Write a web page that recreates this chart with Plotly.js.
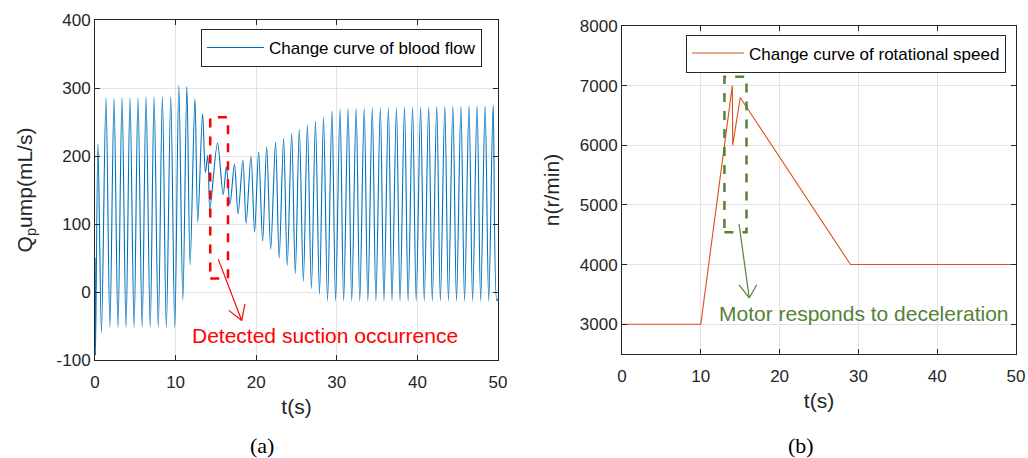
<!DOCTYPE html>
<html>
<head>
<meta charset="utf-8">
<script src="https://cdn.plot.ly/plotly-3.0.1.min.js"></script>
<style>html,body{margin:0;padding:0;background:#fff;}#chart{width:1028px;height:458px;}</style>
</head>
<body>
<div id="chart"></div>
<script>
// ---- Panel (a): pump blood flow ----
const flowStartT = [0, 0.06];
const flowStartQ = [50, -93];
const peakT = [0.37, 1.36, 2.36, 3.35, 4.34, 5.33, 6.33, 7.33, 8.36, 9.4,
  10.4, 11.4, 12.4, 13.35, 14.0, 15.2, 16.3,
  17.3, 18.35, 19.35, 20.3, 21.3, 22.4, 23.4, 24.4, 25.35, 26.35, 27.35, 28.35, 29.4,
  30.4, 31.4, 32.4, 33.4, 34.4, 35.4, 36.4, 37.4, 38.4, 39.4,
  40.4, 41.4, 42.4, 43.4, 44.4, 45.4, 46.4, 47.4, 48.4, 49.4];
const peakQ = [218, 286, 285, 286, 286, 286, 287, 287, 287, 287,
  304, 302, 284, 262, 201, 219, 184,
  188, 194, 200, 206, 213, 220, 226, 233, 239, 245, 251, 257, 266,
  269, 270, 270, 270, 271, 271, 271, 271, 272, 272,
  272, 272, 273, 273, 273, 273, 274, 274, 274, 275];
const troughT = [0.8, 1.85, 2.85, 3.85, 4.85, 5.85, 6.85, 7.85, 8.85, 9.9,
  10.9, 11.8, 12.75, 13.7, 14.25, 15.9, 16.75,
  17.75, 18.75, 19.8, 20.8, 21.8, 22.85, 23.85, 24.85, 25.85, 26.85, 27.85, 28.85,
  29.85, 30.85, 31.85, 32.85, 33.85, 34.85, 35.85, 36.85, 37.85, 38.85, 39.85,
  40.85, 41.85, 42.85, 43.85, 44.85, 45.85, 46.85, 47.85, 48.85, 49.85];
const troughQ = [-60, -52, -52, -52, -52, -52, -52, -52, -52, -52,
  -12, 40, 103, 176, 122, 143, 129,
  115, 101, 88, 75, 63, 50, 39, 27, 16, 5, -3, -13,
  -13, -13, -13, -13, -13, -13, -13, -13, -13, -13, -13,
  -13, -13, -13, -13, -13, -13, -13, -13, -13, -13];
const flowEndT = [50];
const flowEndQ = [-10];

// ---- Panel (b): rotational speed ----
const speedT = [0, 10, 14.0, 14.05, 15.0, 29.0, 50];
const speedN = [3000, 3000, 7000, 6000, 6800, 4000, 4000];

const xTicks = [0, 10, 20, 30, 40, 50];
const yTicksA = [-100, 0, 100, 200, 300, 400];
const yTickTextA = ['-100', '0', '100', '200', '300', '400'];
const yTicksB = [3000, 4000, 5000, 6000, 7000, 8000];

// interleave flow points in time order
let pts = [];
flowStartT.forEach((t, i) => pts.push([t, flowStartQ[i]]));
peakT.forEach((t, i) => pts.push([t, peakQ[i]]));
troughT.forEach((t, i) => pts.push([t, troughQ[i]]));
flowEndT.forEach((t, i) => pts.push([t, flowEndQ[i]]));
pts.sort((a, b) => a[0] - b[0]);
const flowX = pts.map(p => p[0]);
const flowY = pts.map(p => p[1]);

const FONT = '"Liberation Sans", Arial, Helvetica, sans-serif';
const SERIF = '"Liberation Serif", "DejaVu Serif", serif';
const TXT = '#262626';

const traces = [
  {x: flowX, y: flowY, type: 'scatter', mode: 'lines', xaxis: 'x', yaxis: 'y',
   name: 'Change curve of blood flow', legend: 'legend',
   line: {color: '#0072BD', width: 1.1, shape: 'spline', smoothing: 0.9}},
  {x: speedT, y: speedN, type: 'scatter', mode: 'lines', xaxis: 'x2', yaxis: 'y2',
   name: 'Change curve of rotational speed', legend: 'legend2',
   line: {color: '#D95319', width: 1.1}}
];

function axisBase(extra) {
  return Object.assign({
    showline: true, linecolor: TXT, linewidth: 1, mirror: 'allticks',
    ticks: 'inside', ticklen: 5, tickcolor: TXT, tickwidth: 1,
    showgrid: true, gridcolor: '#e3e3e3', gridwidth: 1, zeroline: false,
    tickfont: {family: FONT, size: 17, color: TXT},
    fixedrange: true
  }, extra);
}

const W = 1028, H = 458;
const px = v => v / W;
const py = v => 1 - v / H;

const layout = {
  width: W, height: H,
  margin: {l: 0, r: 0, t: 0, b: 0},
  paper_bgcolor: '#fff', plot_bgcolor: '#fff',
  showlegend: true,
  xaxis: axisBase({domain: [px(95), px(498)], range: [0, 50], tickvals: xTicks, anchor: 'y',
    ticklabelstandoff: 7,
    title: {text: 't(s)', font: {family: FONT, size: 21, color: TXT}, standoff: 7}}),
  yaxis: axisBase({domain: [py(360), py(20)], range: [-100, 400], tickvals: yTicksA, ticktext: yTickTextA, anchor: 'x',
    title: {text: 'Q<sub>p</sub>ump(mL/s)', font: {family: FONT, size: 21, color: TXT}, standoff: 18}}),
  xaxis2: axisBase({domain: [px(622), px(1016)], range: [0, 50], tickvals: xTicks, anchor: 'y2',
    ticklabelstandoff: 7,
    title: {text: 't(s)', font: {family: FONT, size: 21, color: TXT}, standoff: 7}}),
  yaxis2: axisBase({domain: [py(354), py(26)], range: [2500, 8000], tickvals: yTicksB, anchor: 'x2',
    title: {text: 'n(r/min)', font: {family: FONT, size: 21, color: TXT}, standoff: 14}}),
  legend: {x: px(201), y: py(48), xanchor: 'left', yanchor: 'middle',
    bgcolor: '#fff', bordercolor: TXT, borderwidth: 1,
    font: {family: FONT, size: 17, color: '#000'}, itemwidth: 57, tracegroupgap: 0},
  legend2: {x: px(686), y: py(53.5), xanchor: 'left', yanchor: 'middle',
    bgcolor: '#fff', bordercolor: TXT, borderwidth: 1,
    font: {family: FONT, size: 17, color: '#000'}, itemwidth: 52, tracegroupgap: 0},
  shapes: [
    // red dashed box (a)
    {type: 'rect', xref: 'x', yref: 'y', x0: 14.3, x1: 16.5, y0: 20, y1: 257,
     line: {color: '#FF0000', width: 2.5, dash: 'dash'}},
    {type: 'line', xref: 'x', yref: 'y', x0: 15.3, y0: 48, x1: 18.2, y1: -42,
     line: {color: '#FF0000', width: 1.2}},
    {type: 'line', xref: 'x', yref: 'y', x0: 16.6, y0: -27, x1: 18.2, y1: -42,
     line: {color: '#FF0000', width: 1.2}},
    {type: 'line', xref: 'x', yref: 'y', x0: 18.6, y0: -18, x1: 18.2, y1: -42,
     line: {color: '#FF0000', width: 1.2}},
    // green dashed box (b)
    {type: 'rect', xref: 'x2', yref: 'y2', x0: 13.0, x1: 15.8, y0: 4540, y1: 7150,
     line: {color: '#548235', width: 2.5, dash: 'dash'}},
    {type: 'line', xref: 'x2', yref: 'y2', x0: 14.85, y0: 4680, x1: 16.15, y1: 3440,
     line: {color: '#548235', width: 1.2}},
    {type: 'line', xref: 'x2', yref: 'y2', x0: 14.85, y0: 3660, x1: 16.15, y1: 3440,
     line: {color: '#548235', width: 1.2}},
    {type: 'line', xref: 'x2', yref: 'y2', x0: 17.1, y0: 3660, x1: 16.15, y1: 3440,
     line: {color: '#548235', width: 1.2}}
  ],
  annotations: [
    {text: 'Detected suction occurrence', xref: 'paper', yref: 'paper', x: px(325), y: py(335),
     xanchor: 'center', yanchor: 'middle', showarrow: false,
     font: {family: FONT, size: 21, color: '#FF0000'}},
    {text: 'Motor responds to deceleration', xref: 'paper', yref: 'paper', x: px(864), y: py(313),
     xanchor: 'center', yanchor: 'middle', showarrow: false,
     font: {family: FONT, size: 21, color: '#548235'}},
    {text: '(a)', xref: 'paper', yref: 'paper', x: px(262), y: py(445),
     xanchor: 'center', yanchor: 'middle', showarrow: false,
     font: {family: SERIF, size: 22, color: '#000'}},
    {text: '(b)', xref: 'paper', yref: 'paper', x: px(801), y: py(445),
     xanchor: 'center', yanchor: 'middle', showarrow: false,
     font: {family: SERIF, size: 22, color: '#000'}}
  ]
};

Plotly.newPlot('chart', traces, layout, {displayModeBar: false, staticPlot: true});
</script>
</body>
</html>
